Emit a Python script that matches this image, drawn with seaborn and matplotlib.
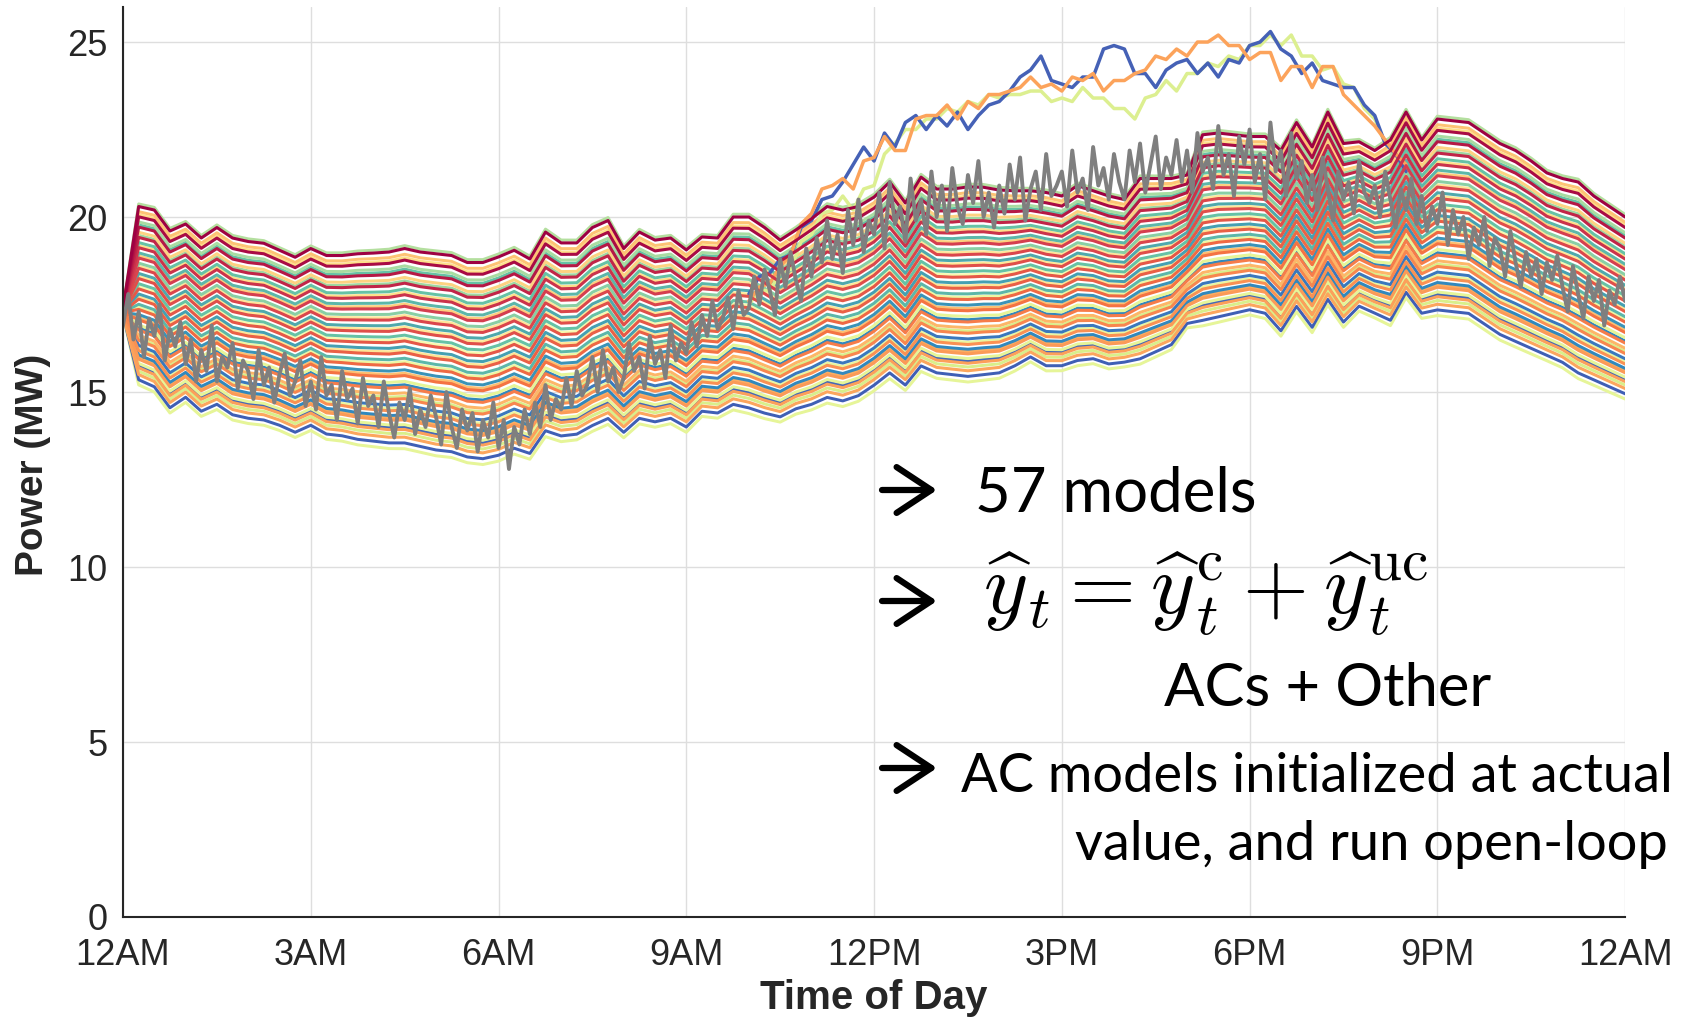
import numpy as np
import pandas as pd
import matplotlib
matplotlib.use("Agg")
import matplotlib.pyplot as plt
import seaborn as sns

# ---------------- data ----------------
x_tick_labels = ["12AM", "3AM", "6AM", "9AM", "12PM", "3PM", "6PM", "9PM", "12AM"]

# upper envelope of the model fan (dark red), 15-min steps from 12AM
top_env = [17.4, 20.3, 20.2, 19.6, 19.8, 19.4, 19.7, 19.4, 19.3, 19.25, 19.05, 18.85,
           19.1, 18.9, 18.9, 18.95, 18.97, 19.0, 19.1, 19.0, 18.95, 18.9, 18.7, 18.7,
           18.86, 19.05, 18.8, 19.57, 19.26, 19.26, 19.7, 19.9, 19.1, 19.57, 19.34, 19.4,
           19.06, 19.43, 19.4, 20.0, 20.0, 19.7, 19.34, 19.63, 19.95, 20.3, 20.2, 20.3,
           20.57, 21.0, 20.4, 21.14, 20.8, 20.8, 20.86, 20.85, 20.77, 20.75, 20.75, 20.7,
           20.6, 20.9, 20.75, 20.6, 20.5, 21.1, 21.1, 21.1, 21.2, 22.35, 22.4, 22.35,
           22.3, 22.3, 21.9, 22.7, 22.0, 23.0, 22.1, 22.15, 21.9, 22.2, 23.0, 22.2,
           22.8, 22.75, 22.7, 22.4, 22.1, 21.9, 21.6, 21.26, 21.1, 21.0, 20.6, 20.3, 20.0]

# lower envelope of the model fan (orange), 15-min steps
bottom_env = [17.2, 15.4, 15.2, 14.6, 14.9, 14.5, 14.7, 14.4, 14.3, 14.25, 14.1, 13.9,
              14.1, 13.85, 13.8, 13.7, 13.65, 13.6, 13.6, 13.5, 13.4, 13.35, 13.2, 13.15,
              13.25, 13.45, 13.3, 13.95, 13.8, 13.85, 14.1, 14.3, 13.9, 14.3, 14.2, 14.3,
              14.05, 14.5, 14.45, 14.7, 14.6, 14.45, 14.34, 14.57, 14.7, 14.9, 14.8, 14.95,
              15.25, 15.6, 15.25, 15.8, 15.6, 15.55, 15.5, 15.55, 15.6, 15.8, 16.05, 15.8,
              15.8, 15.95, 16.0, 15.85, 15.9, 16.0, 16.2, 16.4, 17.0, 17.1, 17.2, 17.3,
              17.4, 17.3, 16.8, 17.5, 16.9, 17.7, 17.05, 17.5, 17.3, 17.1, 17.9, 17.3,
              17.4, 17.35, 17.3, 17.0, 16.7, 16.5, 16.3, 16.1, 15.9, 15.6, 15.4, 15.2, 15.0]

# position of each model inside the fan (0 = lower envelope, 1 = upper envelope)
red_levels = [1.00, 0.94, 0.88, 0.82, 0.76, 0.70, 0.64, 0.58, 0.52, 0.46, 0.40, 0.34,
              0.28, 0.22, 0.16, 0.11, 0.06, 0.02]
red_colors = ["#9e0142", "#a90b44", "#b51845", "#c12548", "#cb334b", "#d53e4f",
              "#db464c", "#e04f4a", "#e55848", "#ea6046", "#ef6944", "#f47343",
              "#f67c4a", "#f8864e", "#fa9153", "#fb9a57", "#fca05a", "#fca65d"]
pastel_levels = [1.015, 0.97, 0.952, 0.91, 0.893, 0.85, 0.832, 0.79, 0.772, 0.73,
                 0.712, 0.67, 0.652, 0.61, 0.592, 0.55, 0.532, 0.49, 0.472, 0.43,
                 0.412, 0.37, 0.352, 0.31, 0.292, 0.25, 0.232, 0.19, 0.172, 0.135,
                 0.122, 0.085, 0.072, 0.04, -0.01, -0.04]
pastel_colors = ["#b4df9f", "#fdc374", "#fee08b", "#a9dca1", "#66c2a5", "#fdd281",
                 "#9fd8a2", "#66c2a5", "#fee08b", "#5cb7a9", "#fdcf7e", "#89cfa4",
                 "#fee59a", "#4fa9ac", "#fee898", "#66c2a5", "#f7f9ae", "#45a0b2",
                 "#fde596", "#5cb7a9", "#edf7a3", "#3a93b8", "#fdbf71", "#e6f598",
                 "#3288bd", "#fdb668", "#d9ef8b", "#3a78bd", "#e9f6a1", "#3288bd",
                 "#fdae61", "#e6f598", "#4468b8", "#d9ef8b", "#3f5fb5", "#e6f598"]

# three models that depart upward around midday, 10-min steps from 10AM
special_start = 10.0
special_blue = [17.8, 18.3, 18.4, 18.8, 18.9, 19.7, 19.9, 20.5, 20.6, 21.0, 21.5, 22.0,
                21.6, 22.4, 22.0, 22.7, 22.9, 22.5, 22.9, 22.6, 23.0, 22.5, 22.9, 23.2,
                23.3, 23.6, 24.0, 24.2, 24.6, 23.9, 23.8, 23.7, 24.0, 24.0, 24.8, 24.9,
                24.8, 24.1, 24.1, 23.7, 24.2, 24.4, 24.5, 24.1, 24.4, 24.0, 24.5, 24.4,
                24.9, 25.0, 25.3, 24.8, 24.6, 24.1, 24.4, 23.9, 23.8, 23.7, 23.7, 23.2,
                22.9, 22.1, 21.8, 21.3]
special_orange = [17.6, 18.0, 18.1, 18.6, 18.9, 19.8, 20.1, 20.8, 20.9, 21.1, 20.8, 21.6,
                  21.7, 22.3, 21.9, 21.9, 22.8, 22.9, 22.9, 23.2, 22.8, 23.3, 23.1, 23.5,
                  23.5, 23.6, 23.7, 24.0, 23.7, 23.8, 23.6, 24.0, 23.9, 24.1, 23.6, 23.9,
                  23.9, 24.1, 24.2, 24.6, 24.5, 24.8, 24.6, 25.0, 25.0, 25.2, 24.9, 24.9,
                  24.5, 24.7, 24.7, 23.9, 24.3, 24.3, 23.7, 24.3, 24.3, 23.5, 23.2, 22.9,
                  22.6, 22.2, 21.8, 21.5]
special_lime = [17.5, 17.9, 17.9, 18.4, 18.5, 19.3, 19.5, 20.1, 20.2, 20.6, 20.2, 20.8,
                20.9, 21.8, 22.1, 22.5, 22.5, 22.8, 22.8, 23.1, 23.0, 23.3, 23.2, 23.5,
                23.4, 23.5, 23.5, 23.6, 23.6, 23.3, 23.4, 23.3, 23.7, 23.4, 23.4, 23.1,
                23.1, 22.8, 23.4, 23.5, 23.9, 23.6, 24.1, 24.1, 24.4, 24.3, 24.6, 24.5,
                24.9, 24.9, 25.2, 24.9, 25.2, 24.6, 24.6, 24.2, 24.3, 23.8, 23.7, 23.1,
                22.8, 22.1, 21.8, 21.3]

# measured feeder power (gray), 5-min steps from 12AM
actual = [16.9, 17.8, 16.5, 17.3, 16.0, 17.1, 16.6, 17.5, 15.9, 16.8, 16.3, 17.0,
          15.8, 16.5, 15.3, 16.2, 15.6, 16.9, 15.3, 16.0, 15.7, 16.4, 15.1, 15.9,
          15.6, 14.8, 16.2, 15.2, 15.7, 14.7, 15.5, 16.1, 14.9, 15.3, 15.9, 14.6,
          15.3, 14.5, 16.0, 14.9, 15.2, 14.2, 15.6, 14.8, 15.1, 14.1, 15.4, 14.6,
          14.9, 14.0, 15.3, 14.4, 13.7, 14.7, 14.2, 15.1, 13.8, 14.5, 14.0, 14.9,
          14.3, 13.5, 15.0, 14.0, 13.4, 14.5, 13.9, 14.4, 13.3, 14.2, 13.7, 14.7,
          13.4, 14.2, 12.8, 14.0, 13.5, 14.5, 13.8, 14.7, 14.0, 15.2, 14.2, 14.8,
          14.5, 15.4, 14.6, 15.6, 14.9, 15.2, 16.0, 15.0, 16.2, 15.3, 15.7, 15.0,
          15.4, 16.4, 15.6, 16.0, 15.1, 16.6, 15.8, 16.2, 15.4, 16.9, 15.9, 16.4,
          16.1, 17.0, 16.3, 17.2, 16.6, 17.6, 16.8, 17.1, 17.7, 16.8, 17.9, 17.2,
          17.4, 18.3, 17.5, 18.5, 17.9, 17.2, 18.8, 18.0, 19.0, 18.2, 17.6, 19.1,
          18.3, 19.4, 18.7, 19.9, 18.8, 19.5, 18.4, 20.2, 19.2, 20.5, 19.0, 19.9,
          19.5, 20.7, 19.1, 21.0, 19.8, 20.3, 19.3, 21.1, 19.9, 20.5, 19.5, 21.3,
          20.0, 20.9, 19.6, 21.4, 20.3, 19.8, 21.2, 20.4, 21.6, 20.0, 20.7, 19.7,
          20.9, 20.1, 21.5, 20.5, 21.7, 19.9, 20.8, 21.3, 20.2, 21.8, 20.6, 20.9,
          21.3, 20.3, 21.9, 20.7, 21.1, 20.2, 22.0, 20.9, 21.4, 20.5, 21.8, 21.0,
          20.5, 21.9, 21.0, 22.1, 20.7, 21.5, 22.3, 20.8, 21.7, 21.2, 22.2, 21.0,
          21.9, 20.7, 22.4, 21.3, 21.7, 20.8, 22.6, 21.2, 21.8, 20.6, 22.3, 21.5,
          22.5, 21.0, 21.8, 20.5, 22.7, 21.3, 21.9, 20.6, 22.4, 21.1, 21.6, 20.4,
          21.2, 20.2, 21.7, 20.8, 19.9, 21.3, 20.5, 21.0, 20.1, 21.6, 20.7, 20.4,
          20.9, 20.0, 21.3, 20.5, 19.7, 20.8, 20.2, 21.1, 19.8, 20.6, 19.6, 20.3,
          19.8, 20.7, 19.2, 20.2, 19.5, 20.0, 18.8, 19.7, 19.2, 20.0, 18.6, 19.4,
          19.1, 18.3, 19.6, 18.7, 18.0, 19.0, 18.3, 18.8, 17.8, 18.7, 18.2, 18.9,
          18.0, 17.3, 18.6, 17.8, 17.1, 18.3, 17.6, 18.2, 16.9, 17.9, 17.5, 18.3,
          17.6]

# ---------------- build tidy tables ----------------
top = np.array(top_env)
bot = np.array(bottom_env)
model_hours = np.arange(len(top)) * 0.25

def fan_table(levels, colors, prefix):
    frames, names, pal = [], [], {}
    for i, (lvl, col) in enumerate(zip(levels, colors)):
        name = f"{prefix}{i}"
        names.append(name)
        pal[name] = col
        vals = bot + lvl * (top - bot)
        frames.append(pd.DataFrame({"hour": model_hours, "power": vals, "model": name}))
    return pd.concat(frames, ignore_index=True), names, pal

pastel_df, pastel_order, pastel_pal = fan_table(pastel_levels[::-1], pastel_colors[::-1], "p")
red_df, red_order, red_pal = fan_table(red_levels[::-1], red_colors[::-1], "r")

spec_rows = []
spec_pal = {"sp_lime": "#dcef90", "sp_blue": "#4561b6", "sp_orange": "#fca35b"}
for name, vals in [("sp_lime", special_lime), ("sp_blue", special_blue),
                   ("sp_orange", special_orange)]:
    hrs = special_start + np.arange(len(vals)) / 6.0
    spec_rows.append(pd.DataFrame({"hour": hrs, "power": vals, "model": name}))
spec_df = pd.concat(spec_rows, ignore_index=True)

actual_df = pd.DataFrame({"hour": np.arange(len(actual)) / 12.0, "power": actual})

# ---------------- plot ----------------
sns.set_theme(style="white")
plt.rcParams["font.family"] = ["Liberation Sans", "DejaVu Sans"]
plt.rcParams["mathtext.fontset"] = "cm"

fig = plt.figure(figsize=(16.9, 10.19), dpi=100)
ax = fig.add_axes([0.0728, 0.1001, 0.8888, 0.893])

sns.lineplot(data=pastel_df, x="hour", y="power", hue="model", hue_order=pastel_order,
             palette=pastel_pal, estimator=None, sort=False, legend=False,
             linewidth=2.15, ax=ax)
sns.lineplot(data=spec_df, x="hour", y="power", hue="model",
             hue_order=["sp_lime", "sp_blue", "sp_orange"], palette=spec_pal,
             estimator=None, sort=False, legend=False, linewidth=2.5, ax=ax)
sns.lineplot(data=red_df, x="hour", y="power", hue="model", hue_order=red_order,
             palette=red_pal, estimator=None, sort=False, legend=False,
             linewidth=2.2, ax=ax)
sns.lineplot(data=actual_df, x="hour", y="power", color="#7f7f7f",
             estimator=None, sort=False, linewidth=2.8, ax=ax)

ax.set_xlim(0, 24)
ax.set_ylim(0, 26)
ax.set_xticks(np.arange(0, 25, 3))
ax.set_xticklabels(x_tick_labels)
ax.set_yticks(np.arange(0, 26, 5))
ax.grid(True, color="#dedede", linewidth=1)
ax.set_axisbelow(True)
for s in ["top", "right"]:
    ax.spines[s].set_visible(False)
for s in ["left", "bottom"]:
    ax.spines[s].set_color("#262626")
    ax.spines[s].set_linewidth(1.5)
ax.tick_params(direction="in", length=14, width=1.2, labelsize=26,
               color="#262626", labelcolor="#262626")
ax.tick_params(axis="x", pad=15)
ax.tick_params(axis="y", pad=11)

ax.set_xlabel("Time of Day", fontsize=29, fontweight="bold", color="#262626", va="center")
ax.set_ylabel("Power (MW)", fontsize=28, fontweight="bold", color="#262626", va="center")
ax.xaxis.set_label_coords(0.5, -0.089)
ax.yaxis.set_label_coords(-0.06, 0.497)

W, H = 1690.0, 1019.0
def fx(px):
    return px / W
def fy(py):
    return 1 - py / H

for yc in (490, 601, 768):
    ax.annotate("", xy=(937, H - yc), xytext=(882, H - yc),
                xycoords="figure pixels", textcoords="figure pixels",
                arrowprops=dict(arrowstyle="->, head_length=0.5, head_width=0.33",
                                mutation_scale=50, lw=4.5, color="black",
                                shrinkA=0, shrinkB=0),
                annotation_clip=False)

txt_font = ["Lato", "DejaVu Sans"]
fig.text(fx(975), fy(511), "57 models", fontsize=44.5, family=txt_font,
         ha="left", va="baseline", color="black")
fig.text(fx(983), fy(614),
         r"$\widehat{y}_t = \widehat{y}_t^{\mathrm{c}} + \widehat{y}_t^{\mathrm{uc}}$",
         fontsize=61, ha="left", va="baseline", color="black")
fig.text(fx(1164), fy(706), "ACs + Other", fontsize=43, family=txt_font,
         ha="left", va="baseline", color="black")
fig.text(fx(961), fy(792), "AC models initialized at actual", fontsize=39,
         family=txt_font, ha="left", va="baseline", color="black")
fig.text(fx(1668), fy(860), "value, and run open-loop", fontsize=39,
         family=txt_font, ha="right", va="baseline", color="black")

fig.savefig("out.png", dpi=100)
